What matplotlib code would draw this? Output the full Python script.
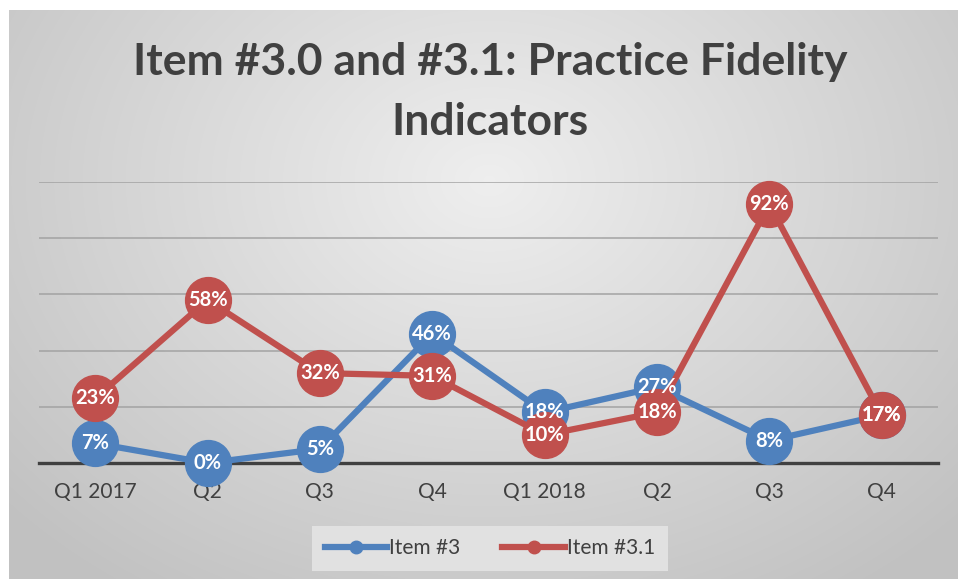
import numpy as np
import matplotlib
matplotlib.use("Agg")
import matplotlib.pyplot as plt
from matplotlib.lines import Line2D

quarters = ["Q1 2017", "Q2", "Q3", "Q4", "Q1 2018", "Q2", "Q3", "Q4"]
item3 = [7, 0, 5, 46, 18, 27, 8, 17]
item31 = [23, 58, 32, 31, 10, 18, 92, 17]

BLUE = "#4F81BD"
RED = "#C0504D"
TXT = "#404040"

plt.rcParams['font.family'] = ['Lato', 'DejaVu Sans']

fig = plt.figure(figsize=(9.58, 5.79), dpi=100)
fig.patch.set_facecolor("white")

# chart area background with radial gray gradient
bg = fig.add_axes([9 / 958, 0, 1 - 9 / 958, 569 / 579])
bg.set_axis_off()
yy, xx = np.mgrid[0:569, 0:949]
d = np.sqrt(((xx - 480) / 620.0) ** 2 + ((yy - 170) / 480.0) ** 2)
shade = np.clip(0.935 - 0.17 * d, 0.76, 0.94)
bg.imshow(np.dstack([shade] * 3), aspect="auto", extent=[0, 1, 0, 1])
bg.set_xlim(0, 1)
bg.set_ylim(0, 1)

ax = fig.add_axes([39 / 958, 1 - 463 / 579, 899 / 958, 281 / 579])
ax.patch.set_alpha(0)
ax.set_xlim(-0.5, 7.5)
ax.set_ylim(0, 100)
for s in ["top", "right", "left"]:
    ax.spines[s].set_visible(False)
ax.spines["bottom"].set_color(TXT)
ax.spines["bottom"].set_linewidth(2.4)
ax.spines["bottom"].set_zorder(2)
ax.set_yticks([20, 40, 60, 80, 100])
ax.yaxis.grid(True, color="#a0a0a0", linewidth=1.3, alpha=0.8)
ax.tick_params(axis="y", left=False, labelleft=False)
ax.tick_params(axis="x", length=0, pad=14, labelsize=15, labelcolor=TXT)
ax.set_xticks(range(len(quarters)))
ax.set_xticklabels(quarters)
ax.set_axisbelow(True)

x = np.arange(len(quarters))
ax.plot(x, item3, color=BLUE, lw=4.5, marker="o", ms=33, zorder=3, clip_on=False,
        solid_capstyle="round")
ax.plot(x, item31, color=RED, lw=4.5, marker="o", ms=33, zorder=4, clip_on=False,
        solid_capstyle="round")

for xi, v in zip(x, item3):
    ax.text(xi, v, f"{v}%", ha="center", va="center", color="white",
            fontsize=14.5, fontweight="bold", zorder=6)
for xi, v in zip(x, item31):
    ax.text(xi, v, f"{v}%", ha="center", va="center", color="white",
            fontsize=14.5, fontweight="bold", zorder=6)

fig.text(490 / 958, 1 - 92 / 579, "Item #3.0 and #3.1: Practice Fidelity\nIndicators",
         ha="center", va="center", fontsize=32, fontweight="bold", color=TXT,
         linespacing=1.6)

handles = [Line2D([0], [0], color=BLUE, lw=4.5, marker="o", ms=9),
           Line2D([0], [0], color=RED, lw=4.5, marker="o", ms=9)]
leg = fig.legend(handles, ["Item #3", "Item #3.1"], loc="center",
                 bbox_to_anchor=(490 / 958, 1 - 548 / 579), ncol=2, frameon=True,
                 fontsize=15, handlelength=3.0, handletextpad=0.1, columnspacing=2.0,
                 borderpad=0.6, fancybox=False)
leg.get_frame().set_facecolor("#e4e4e4")
leg.get_frame().set_edgecolor("none")
leg.get_frame().set_alpha(0.9)
for t in leg.get_texts():
    t.set_color(TXT)

fig.savefig("out.png", dpi=100)
